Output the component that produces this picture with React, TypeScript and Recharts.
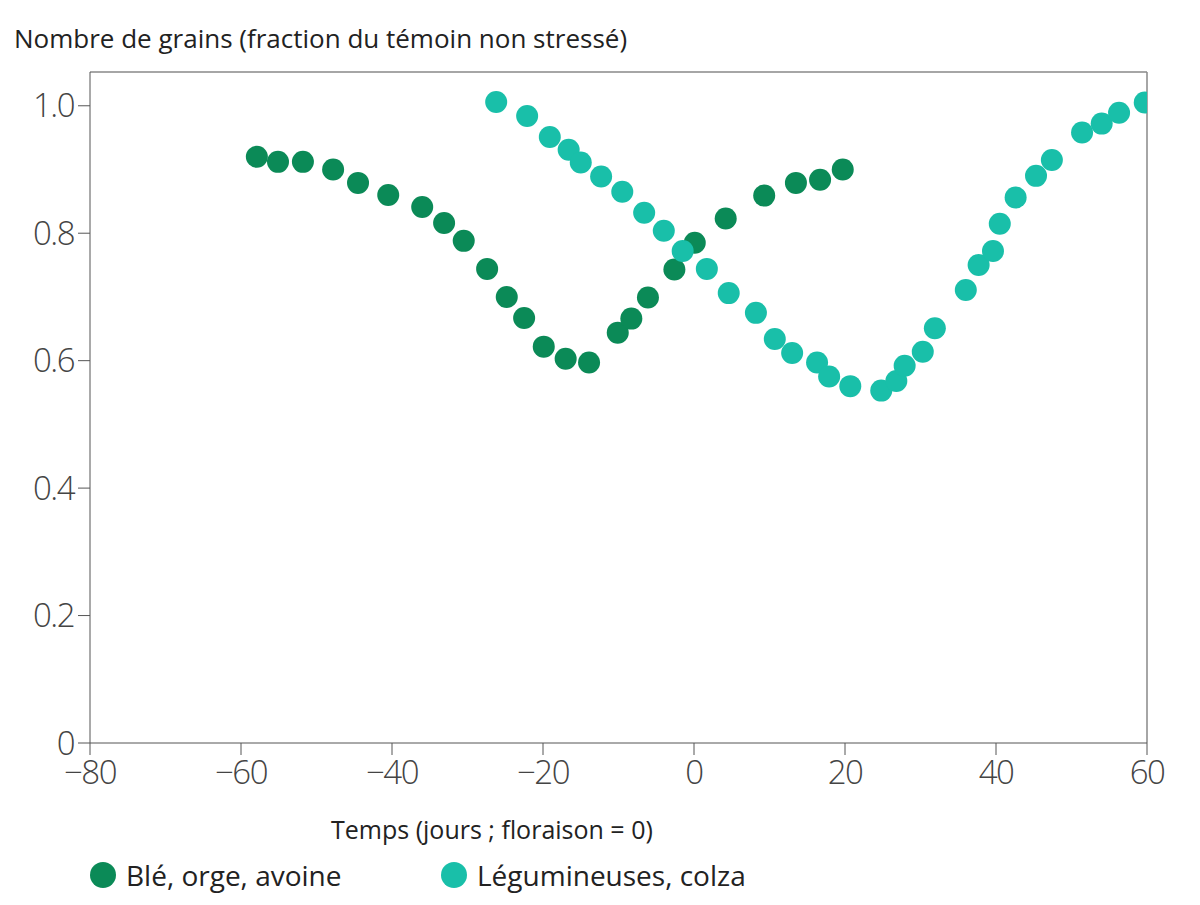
import { ScatterChart, Scatter, XAxis, YAxis, ReferenceLine } from "recharts";

const cerealesX = [-57.9, -55.1, -51.8, -47.8, -44.5, -40.5, -36, -33.1, -30.5, -27.4, -24.8, -22.5, -19.9, -17, -13.9, -10.1, -8.3, -6.1, -2.6, 0.1, 4.2, 9.3, 13.5, 16.7, 19.7];
const cerealesY = [0.92, 0.912, 0.912, 0.9, 0.879, 0.86, 0.841, 0.816, 0.788, 0.744, 0.7, 0.667, 0.622, 0.603, 0.597, 0.644, 0.666, 0.699, 0.743, 0.785, 0.823, 0.859, 0.879, 0.884, 0.9];
const legumX = [-26.2, -22.1, -19.1, -16.6, -15, -12.3, -9.5, -6.6, -4, -1.5, 1.7, 4.6, 8.2, 10.7, 13, 16.3, 17.9, 20.7, 24.8, 26.8, 27.9, 30.3, 31.9, 36, 37.7, 39.6, 40.5, 42.6, 45.3, 47.4, 51.4, 54, 56.3, 59.7];
const legumY = [1.006, 0.984, 0.951, 0.931, 0.911, 0.889, 0.865, 0.832, 0.804, 0.772, 0.744, 0.706, 0.675, 0.634, 0.612, 0.597, 0.575, 0.56, 0.553, 0.568, 0.592, 0.614, 0.651, 0.711, 0.75, 0.772, 0.815, 0.856, 0.89, 0.915, 0.958, 0.972, 0.989, 1.005];
const xTicks = [-80, -60, -40, -20, 0, 20, 40, 60];
const yTicks = [0, 0.2, 0.4, 0.6, 0.8, 1.0];

const DARK = "#0b8a57";
const TEAL = "#19bfa9";
const AXIS = "#555";

const cereales = cerealesX.map((x, i) => ({ x, y: cerealesY[i] }));
const legum = legumX.map((x, i) => ({ x, y: legumY[i] }));

const fmtX = (v: number) => (v < 0 ? "\u2212" + Math.abs(v) : String(v));
const fmtY = (v: number) => (v === 0 ? "0" : v.toFixed(1));
const dot = (color: string) => (p: any) => <circle cx={p.cx} cy={p.cy} r={11} fill={color} />;

const tickStyle = { fontSize: 33, fill: "#444", fontFamily: "'Open Sans'", fontWeight: 300, letterSpacing: -1.5 };

export default function App() {
  return (
    <div style={{ position: "absolute", left: 0, top: 0, width: 1200, height: 905, background: "#fff", fontFamily: "'Open Sans', sans-serif", color: "#222" }}>
      <div style={{ position: "absolute", left: 14, top: 20, fontSize: 26 }}>
        Nombre de grains (fraction du témoin non stressé)
      </div>
      <ScatterChart width={1200} height={905} margin={{ top: 72, right: 53, bottom: 102, left: 0 }}>
        <XAxis type="number" dataKey="x" domain={[-80, 60]} ticks={xTicks} tickFormatter={fmtX}
          stroke={AXIS} tick={tickStyle} tickSize={12} tickMargin={6} height={60} allowDataOverflow />
        <YAxis type="number" dataKey="y" domain={[0, 1.053]} ticks={yTicks} tickFormatter={fmtY}
          stroke={AXIS} tick={tickStyle} tickSize={12} tickMargin={4} width={90} allowDataOverflow />
        <ReferenceLine x={60} stroke="#888" strokeWidth={1.5} />
        <ReferenceLine y={1.053} stroke="#888" strokeWidth={1.5} />
        <Scatter data={cereales} shape={dot(DARK)} isAnimationActive={false} />
        <Scatter data={legum} shape={dot(TEAL)} isAnimationActive={false} />
      </ScatterChart>
      <div style={{ position: "absolute", left: 331, top: 812, fontSize: 25 }}>
        Temps (jours ; floraison = 0)
      </div>
      <div style={{ position: "absolute", left: 90, top: 856, fontSize: 28, display: "flex", alignItems: "center" }}>
        <span style={{ width: 26, height: 26, borderRadius: 13, background: DARK, marginRight: 10 }} />
        Blé, orge, avoine
      </div>
      <div style={{ position: "absolute", left: 441, top: 856, fontSize: 28, display: "flex", alignItems: "center" }}>
        <span style={{ width: 26, height: 26, borderRadius: 13, background: TEAL, marginRight: 10 }} />
        Légumineuses, colza
      </div>
    </div>
  );
}
